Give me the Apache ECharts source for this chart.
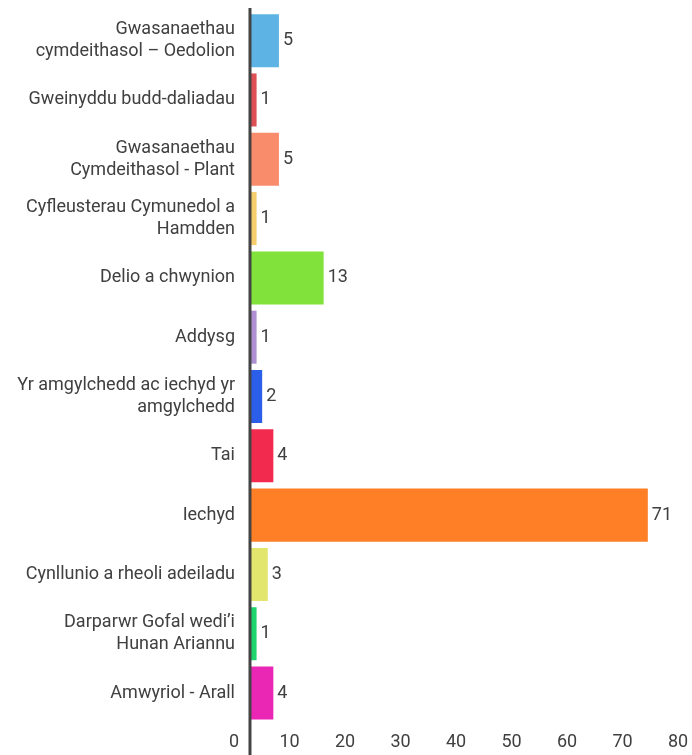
<!DOCTYPE html>
<html>
<head>
<meta charset="utf-8">
<script src="https://cdn.jsdelivr.net/npm/echarts@6/dist/echarts.min.js"></script>
<style>
html,body{margin:0;padding:0;background:#fff;}
#chart{width:692px;height:755px;}
</style>
</head>
<body>
<div id="chart"></div>
<script>
const categories = [
  "Gwasanaethau\ncymdeithasol – Oedolion",
  "Gweinyddu budd-daliadau",
  "Gwasanaethau\nCymdeithasol - Plant",
  "Cyfleusterau Cymunedol a\nHamdden",
  "Delio a chwynion",
  "Addysg",
  "Yr amgylchedd ac iechyd yr\namgylchedd",
  "Tai",
  "Iechyd",
  "Cynllunio a rheoli adeiladu",
  "Darparwr Gofal wedi’i\nHunan Ariannu",
  "Amwyriol - Arall"
];
const values = [5, 1, 5, 1, 13, 1, 2, 4, 71, 3, 1, 4];
const barColors = ["#5DB3E4","#DD4E55","#F98C6B","#F6CD6B","#80E23B","#AE8FD1","#2B5FEA","#F22A4E","#FF7F27","#E3E66C","#1DD56C","#EA27B4"];
const tickMin = 0, tickMax = 80, tickStep = 10;

const FONT = "Roboto";
const TXT = "#404040";
const chart = echarts.init(document.getElementById('chart'), null, {renderer:'canvas'});
const option = {
  animation: false,
  grid: {left: 234, right: 14, top: 11, bottom: 32.3, containLabel: false},
  xAxis: [
    {type:'value', min: tickMin, max: tickMax, interval: tickStep, position:'bottom',
     axisLine:{show:false}, axisTick:{show:false}, splitLine:{show:false},
     axisLabel:{color:TXT, fontFamily:FONT, fontSize:18, margin:11}},
    {type:'value', min: -3.04, max: 76.4, show:false, splitLine:{show:false}}
  ],
  yAxis: {
    type:'category', data: categories, inverse: true,
    axisLine:{show:false}, axisTick:{show:false},
    axisLabel:{color:TXT, fontFamily:FONT, fontSize:18, lineHeight:22, margin:-1, align:'right'}
  },
  series: [{
    type:'bar', xAxisIndex:1,
    barCategoryGap:'10.6%',
    data: values.map((v,i)=>({value:v, itemStyle:{color:barColors[i]}})),
    label:{show:true, position:'right', distance:4, color:TXT, fontFamily:FONT, fontSize:18}
  }]
};
chart.setOption(option);
const x0 = chart.convertToPixel({xAxisIndex:1}, 0);
chart.setOption({
  graphic:[{type:'line', z:100, shape:{x1:x0-1, y1:8, x2:x0-1, y2:755}, style:{stroke:'#444', lineWidth:3}}]
});
</script>
</body>
</html>
